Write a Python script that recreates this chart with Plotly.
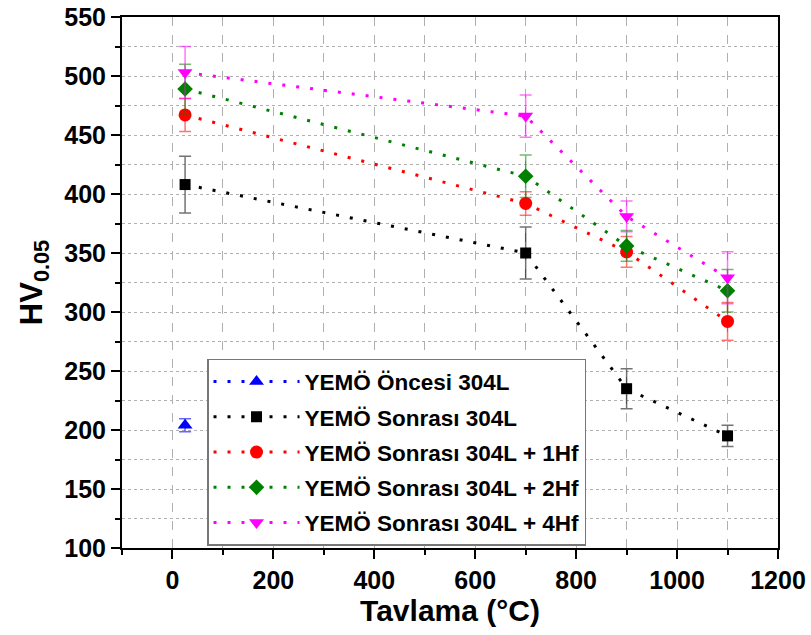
import plotly.graph_objects as go

# Annealing temperature (°C) and Vickers microhardness HV0.05 with error bars
temp_before = [25]
hv_before = [204]
err_before = [5.5]

temp = [25, 700, 900, 1100]

hv_after = [408, 350, 235, 195]
err_after = [24, 22, 17, 9]

hv_1hf = [467, 392, 351, 292]
err_1hf = [14, 10, 13, 16]

hv_2hf = [489, 415, 356, 318]
err_2hf = [21, 18, 13, 18]

hv_4hf = [503, 466, 381, 329]
err_4hf = [22, 18, 13, 22]

names = [
    "YEMÖ Öncesi 304L",
    "YEMÖ Sonrası 304L",
    "YEMÖ Sonrası 304L + 1Hf",
    "YEMÖ Sonrası 304L + 2Hf",
    "YEMÖ Sonrası 304L + 4Hf",
]

FONT = "Liberation Sans, Arial, sans-serif"

series = [
    (temp_before, hv_before, err_before, "#0000ff", "rgba(0,0,255,0.6)", "triangle-up", 13),
    (temp, hv_after, err_after, "#000000", "rgba(0,0,0,0.55)", "square", 11),
    (temp, hv_1hf, err_1hf, "#ff0000", "rgba(255,0,0,0.55)", "circle", 13),
    (temp, hv_2hf, err_2hf, "#008000", "rgba(0,128,0,0.55)", "diamond", 12),
    (temp, hv_4hf, err_4hf, "#ff00ff", "rgba(255,0,255,0.55)", "triangle-down", 13),
]

fig = go.Figure()
for i, (x, y, e, col, ecol, sym, size) in enumerate(series):
    fig.add_trace(go.Scatter(
        x=x, y=y, name=names[i], legendgroup=f"g{i}",
        mode="lines+markers",
        line=dict(color=col, width=3, dash="3px,11px"),
        marker=dict(symbol=sym, size=size, color=col, line=dict(width=0)),
        error_y=dict(type="data", array=e, visible=True, color=ecol,
                     thickness=1.5, width=6),
    ))

fig.update_layout(
    width=811, height=635,
    margin=dict(l=122, r=33, t=17, b=87),
    paper_bgcolor="white", plot_bgcolor="white",
    font=dict(family=FONT, color="black"),
    showlegend=True,
    legend=dict(
        x=0.1296, y=0.356, xanchor="left", yanchor="top",
        bgcolor="white", bordercolor="#777777", borderwidth=1.5,
        font=dict(family=FONT, size=22.5, color="black", weight="bold"),
        tracegroupgap=3, itemwidth=86,
    ),
)

fig.update_xaxes(
    range=[-100, 1200], tick0=0, dtick=200, automargin=False,
    showline=True, linecolor="black", linewidth=2, mirror=True,
    ticks="outside", ticklen=9, tickwidth=1.5, tickcolor="black",
    tickfont=dict(family=FONT, size=25, weight="bold"),
    showgrid=True, gridcolor="#b0b0b0", gridwidth=1, griddash="dash",
    minor=dict(dtick=100, tick0=0, ticks="outside", ticklen=5, tickwidth=1.5,
               tickcolor="black", showgrid=True, gridcolor="#b0b0b0",
               gridwidth=1, griddash="dash"),
    zeroline=False,
    title=dict(text="Tavlama (°C)", font=dict(family=FONT, size=30, weight="bold"),
               standoff=6),
)

fig.update_yaxes(
    range=[100, 550], tick0=100, dtick=50, automargin=False,
    showline=True, linecolor="black", linewidth=2, mirror=True,
    ticks="outside", ticklen=9, tickwidth=1.5, tickcolor="black",
    tickfont=dict(family=FONT, size=25, weight="bold"),
    showgrid=True, gridcolor="#b0b0b0", gridwidth=1, griddash="dot",
    minor=dict(dtick=25, tick0=100, ticks="outside", ticklen=5, tickwidth=1.5,
               tickcolor="black", showgrid=True, gridcolor="#b0b0b0",
               gridwidth=1, griddash="dot"),
    zeroline=False,
    title=dict(text="HV<sub>0.05</sub>", font=dict(family=FONT, size=31, weight="bold"),
               standoff=12),
)

fig.write_html("out.html")
